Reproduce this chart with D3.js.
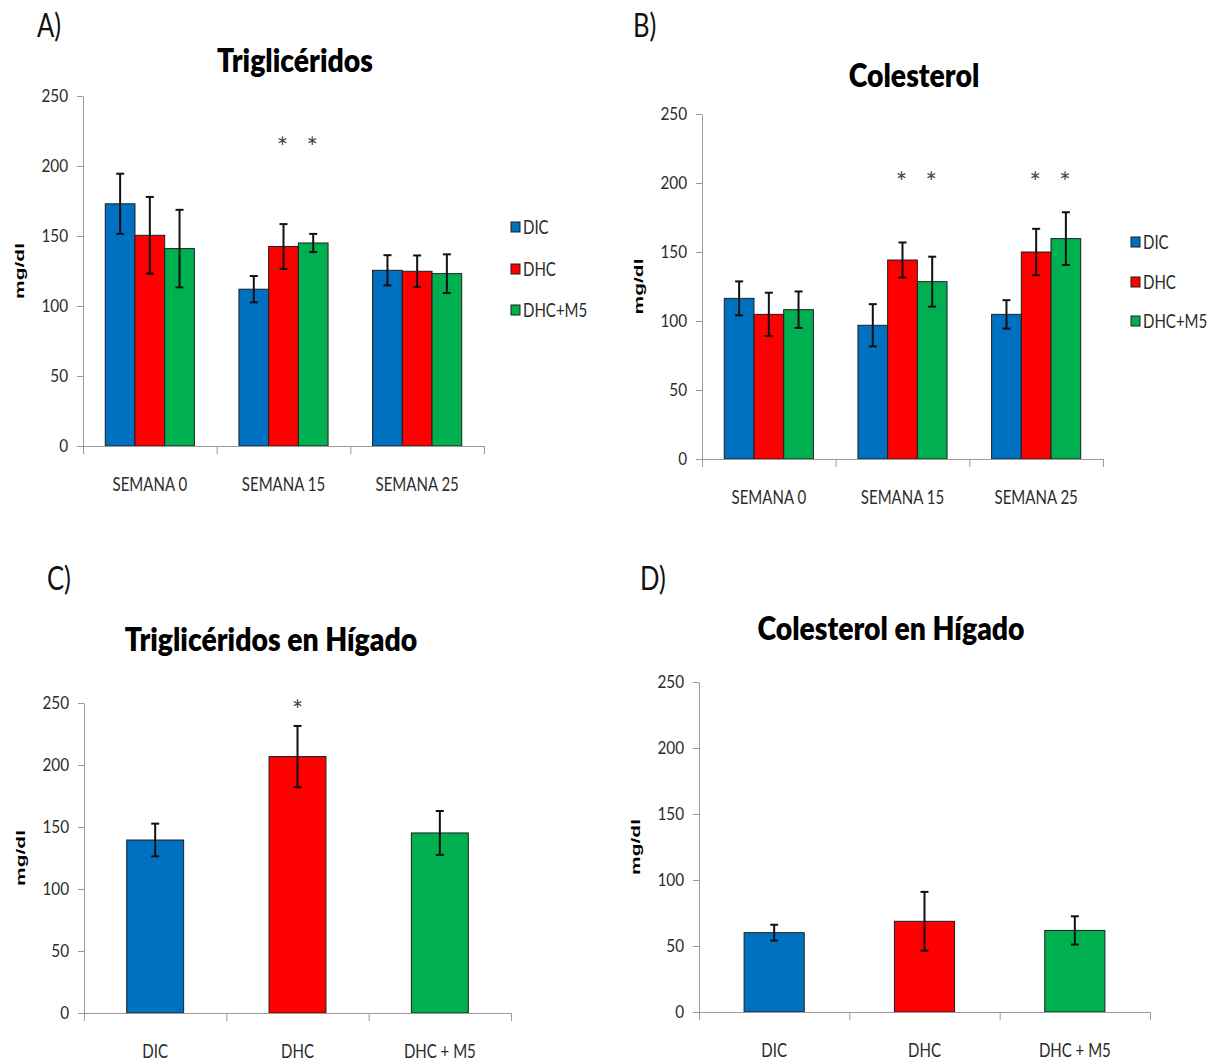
<!DOCTYPE html>
<html>
<head>
<meta charset="utf-8">
<script src="https://cdn.jsdelivr.net/npm/d3@7"></script>
<style>
  html, body { margin: 0; padding: 0; background: #fff; }
  svg { display: block; }
</style>
</head>
<body>
<svg id="chart" width="1211" height="1064"></svg>
<script>
// ---- data ----
const weeks = ["SEMANA 0", "SEMANA 15", "SEMANA 25"];
const groups = ["DIC", "DHC", "DHC+M5"];
const liverGroups = ["DIC", "DHC", "DHC + M5"];
const yTicks = [0, 50, 100, 150, 200, 250];
const groupColors = ["#0070C0", "#FF0000", "#00B050"];

// serum triglycerides, one row per week: DIC, DHC, DHC+M5
const trigMean = [[173, 150.5, 141], [112, 142.5, 145], [125.5, 124.8, 123.1]];
const trigErr  = [[21.5, 27.4, 27.7], [9.4, 16, 6.5], [10.8, 11.3, 13.8]];
// serum cholesterol
const cholMean = [[116.4, 104.8, 108.2], [96.9, 144.2, 128.5], [104.8, 150, 159.7]];
const cholErr  = [[12.3, 15.7, 13.2], [15.3, 12.7, 18.1], [10.3, 16.8, 19.1]];
// liver values
const liverTrigMean = [139.5, 206.8, 145.2];
const liverTrigErr  = [13.2, 24.7, 17.7];
const liverCholMean = [60.1, 68.7, 61.8];
const liverCholErr  = [6, 22.3, 10.7];

// significance marks: [week index, group index] and the height they sit at
const trigSig = [[1, 1], [1, 2]];
const trigSigLevel = 216;
const cholSig = [[1, 1], [1, 2], [2, 1], [2, 2]];
const cholSigLevel = 203;
const liverTrigSig = [1];
const liverTrigSigLevel = 247;

// ---- styling ----
const FONT = "Lato, 'Open Sans', sans-serif";
const AXIS_COLOR = "#9a9a9a";
const TEXT_COLOR = "#2b2b2b";

const svg = d3.select("#chart");

function label(g, x, y, str, o) {
  return g.append("text")
    .attr("transform", `translate(${x},${y}) scale(${o.sx || 1},1)`)
    .attr("text-anchor", o.anchor || "start")
    .attr("font-family", o.family || FONT)
    .attr("font-size", o.size)
    .attr("font-weight", o.weight || 400)
    .attr("fill", o.fill || TEXT_COLOR)
    .text(str);
}

function frame(p) {
  const g = svg.append("g");
  const y = d3.scaleLinear().domain([0, 250]).range([p.yBase, p.yTop]);

  // panel letter and title
  label(g, p.letterX, p.letterY, p.letter, { size: 32, sx: 0.8, fill: "#111" });
  label(g, p.titleX, p.titleY, p.title, { size: 33, weight: 800, sx: 0.86, anchor: "middle", fill: "#000" });

  // y axis title
  g.append("text")
    .attr("transform", `translate(${p.x0 - 63},${(p.yTop + p.yBase) / 2}) scale(0.62,1) rotate(-90)`)
    .attr("text-anchor", "middle")
    .attr("dominant-baseline", "central")
    .attr("font-family", "'Liberation Sans', Arial, sans-serif")
    .attr("font-size", 21)
    .attr("font-weight", 700)
    .attr("fill", "#000")
    .text("mg/dl");

  return { g, y };
}

function axes(p, g, y, cats) {
  // y axis
  const ya = g.append("g").attr("transform", `translate(${p.x0},0)`)
    .call(d3.axisLeft(y).tickValues(yTicks).tickSize(6).tickSizeOuter(0));
  ya.select(".domain").attr("stroke", AXIS_COLOR);
  ya.selectAll(".tick line").attr("stroke", AXIS_COLOR);
  ya.selectAll(".tick text")
    .attr("font-family", FONT).attr("font-size", 17).attr("fill", TEXT_COLOR)
    .attr("transform", "scale(0.9,1)")
    .attr("x", -15 / 0.9);

  // x axis with ticks at the category boundaries
  const xb = d3.scaleLinear().domain([0, cats.length]).range([p.x0, p.x1]);
  const xa = g.append("g").attr("transform", `translate(0,${p.yBase})`)
    .call(d3.axisBottom(xb).tickValues(d3.range(cats.length + 1)).tickSize(8).tickSizeOuter(0).tickFormat(""));
  xa.select(".domain").attr("stroke", AXIS_COLOR);
  xa.selectAll(".tick line").attr("stroke", AXIS_COLOR);

  const xc = d3.scaleBand().domain(cats).range([p.x0, p.x1]);
  cats.forEach(c => {
    label(g, xc(c) + xc.bandwidth() / 2, p.yBase + 44.5, c, { size: 19.5, sx: 0.77, anchor: "middle" });
  });
}

function errorBar(g, cx, top, bottom) {
  const cap = 4;
  g.append("line").attr("x1", cx).attr("x2", cx).attr("y1", top).attr("y2", bottom);
  g.append("line").attr("x1", cx - cap).attr("x2", cx + cap).attr("y1", top).attr("y2", top);
  g.append("line").attr("x1", cx - cap).attr("x2", cx + cap).attr("y1", bottom).attr("y2", bottom);
}

function star(g, x, y) {
  label(g, x, y + 13, "*", { size: 27, anchor: "middle", fill: "#444" });
}

// ---- grouped panels (A, B) ----
function groupedPanel(p, means, errs, sig, sigLevel) {
  const { g, y } = frame(p);
  const x0 = d3.scaleBand().domain(weeks).range([p.x0, p.x1]).paddingInner(0).paddingOuter(0);
  const x1 = d3.scaleBand().domain(groups).range([0, x0.bandwidth()]).paddingInner(0).paddingOuter(0.75);

  const bars = g.append("g");
  weeks.forEach((w, wi) => {
    groups.forEach((s, si) => {
      bars.append("rect")
        .attr("x", x0(w) + x1(s))
        .attr("y", y(means[wi][si]))
        .attr("width", x1.bandwidth())
        .attr("height", y(0) - y(means[wi][si]))
        .attr("fill", groupColors[si])
        .attr("stroke", "#1e1e1e")
        .attr("stroke-width", 1);
    });
  });
  axes(p, g, y, weeks);

  const eb = g.append("g").attr("stroke", "#111").attr("stroke-width", 2);
  weeks.forEach((w, wi) => {
    groups.forEach((s, si) => {
      const cx = x0(w) + x1(s) + x1.bandwidth() / 2;
      errorBar(eb, cx, y(means[wi][si] + errs[wi][si]), y(means[wi][si] - errs[wi][si]));
    });
  });

  sig.forEach(([wi, si]) => {
    star(g, x0(weeks[wi]) + x1(groups[si]) + x1.bandwidth() / 2 - 1, y(sigLevel));
  });

  // legend
  groups.forEach((s, si) => {
    const ly = p.legendY[si];
    g.append("rect").attr("x", p.legendX).attr("y", ly - 5).attr("width", 9).attr("height", 10)
      .attr("fill", groupColors[si]).attr("stroke", "#1e1e1e").attr("stroke-width", 1);
    label(g, p.legendX + 12, ly + 7, s, { size: 19.5, sx: 0.77 });
  });
}

// ---- single-series panels (C, D) ----
function liverPanel(p, means, errs, sig, sigLevel) {
  const { g, y } = frame(p);
  const x = d3.scaleBand().domain(liverGroups).range([p.x0, p.x1]).paddingInner(0.6).paddingOuter(0.3);

  liverGroups.forEach((c, i) => {
    g.append("rect")
      .attr("x", x(c)).attr("y", y(means[i]))
      .attr("width", x.bandwidth()).attr("height", y(0) - y(means[i]))
      .attr("fill", groupColors[i]).attr("stroke", "#1e1e1e").attr("stroke-width", 1);
  });
  axes(p, g, y, liverGroups);

  const eb = g.append("g").attr("stroke", "#111").attr("stroke-width", 2);
  liverGroups.forEach((c, i) => {
    errorBar(eb, x(c) + x.bandwidth() / 2, y(means[i] + errs[i]), y(means[i] - errs[i]));
  });
  sig.forEach(i => star(g, x(liverGroups[i]) + x.bandwidth() / 2, y(sigLevel)));
}

groupedPanel({ x0: 83, x1: 484, yTop: 96, yBase: 446,
  title: "Triglicéridos", titleX: 295, titleY: 72, letter: "A)", letterX: 37, letterY: 37,
  legendX: 511, legendY: [227, 269, 310] }, trigMean, trigErr, trigSig, trigSigLevel);

groupedPanel({ x0: 702, x1: 1103, yTop: 114, yBase: 459,
  title: "Colesterol", titleX: 914, titleY: 87, letter: "B)", letterX: 633, letterY: 37,
  legendX: 1131, legendY: [242, 282, 321] }, cholMean, cholErr, cholSig, cholSigLevel);

liverPanel({ x0: 84, x1: 511, yTop: 703, yBase: 1013,
  title: "Triglicéridos en Hígado", titleX: 271, titleY: 651, letter: "C)", letterX: 47, letterY: 590 },
  liverTrigMean, liverTrigErr, liverTrigSig, liverTrigSigLevel);

liverPanel({ x0: 699, x1: 1150, yTop: 682, yBase: 1012,
  title: "Colesterol en Hígado", titleX: 891, titleY: 640, letter: "D)", letterX: 640, letterY: 590 },
  liverCholMean, liverCholErr, [], 0);
</script>
</body>
</html>
